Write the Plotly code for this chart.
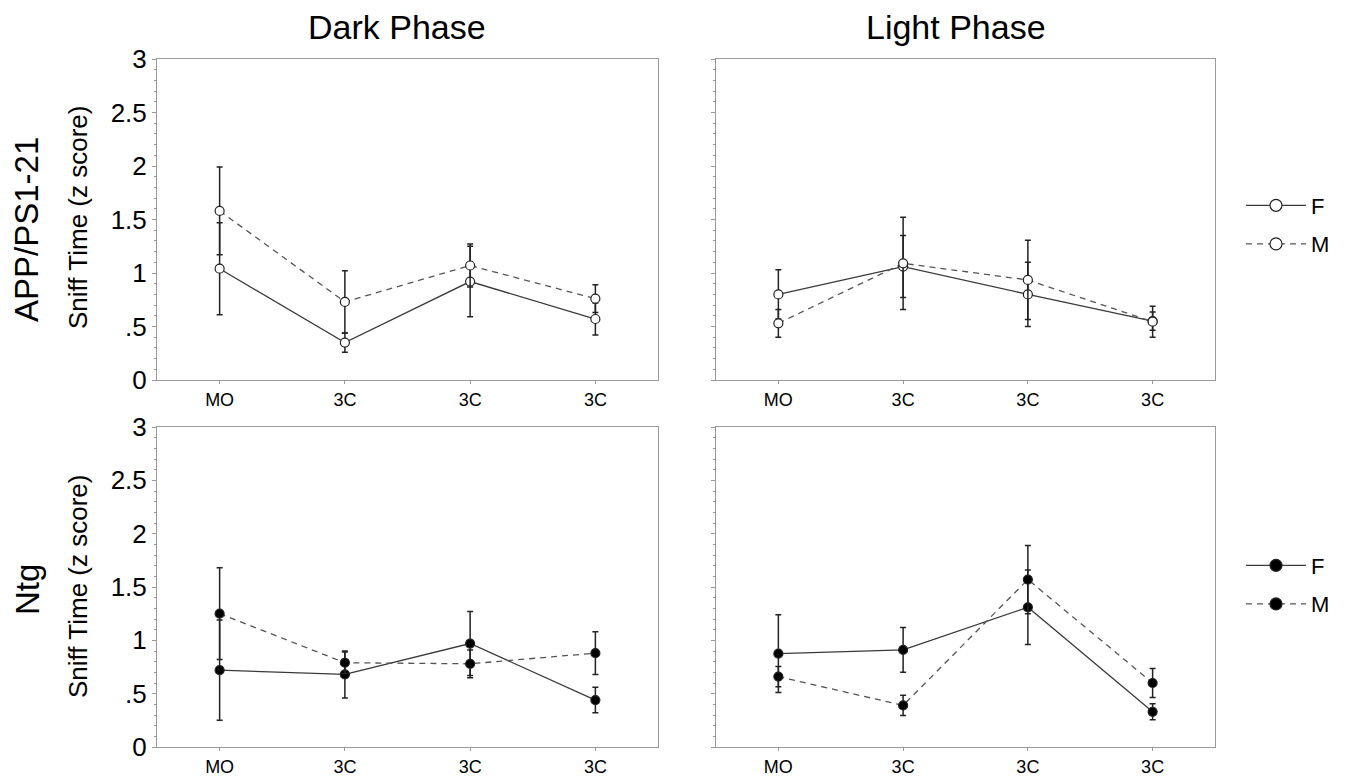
import plotly.graph_objects as go

# ---------------- data ----------------
categories = ["MO", "3C", "3C", "3C"]
xpos = [0, 1, 2, 3]

y_tickvals = [0, 0.5, 1, 1.5, 2, 2.5, 3]
y_ticktext = ["0", ".5", "1", "1.5", "2", "2.5", "3"]

# APP/PS1-21, Dark Phase
app_dark_F = [1.04, 0.35, 0.92, 0.57]
app_dark_F_err = [0.43, 0.09, 0.33, 0.15]
app_dark_M = [1.58, 0.73, 1.07, 0.76]
app_dark_M_err = [0.41, 0.29, 0.20, 0.13]

# APP/PS1-21, Light Phase
app_light_F = [0.80, 1.06, 0.80, 0.55]
app_light_F_err = [0.23, 0.29, 0.30, 0.085]
app_light_M = [0.53, 1.09, 0.935, 0.545]
app_light_M_err = [0.13, 0.43, 0.37, 0.145]

# Ntg, Dark Phase
ntg_dark_F = [0.72, 0.68, 0.97, 0.44]
ntg_dark_F_err = [0.47, 0.22, 0.30, 0.12]
ntg_dark_M = [1.25, 0.79, 0.78, 0.88]
ntg_dark_M_err = [0.43, 0.10, 0.13, 0.20]

# Ntg, Light Phase
ntg_light_F = [0.875, 0.91, 1.31, 0.33]
ntg_light_F_err = [0.365, 0.21, 0.35, 0.075]
ntg_light_M = [0.66, 0.39, 1.57, 0.60]
ntg_light_M_err = [0.095, 0.095, 0.32, 0.135]

col_titles = ["Dark Phase", "Light Phase"]
row_titles = ["APP/PS1-21", "Ntg"]
y_title = "Sniff Time (z score)"

FONT = "Liberation Sans, Arial, sans-serif"
LINE_F = "#3a3a3a"
LINE_M = "#555555"
ERR_COL = "#222222"
AX_COL = "#9a9a9a"
DASH = "6px,5px"

fig = go.Figure()

panels = [
    ("x", "y", app_dark_F, app_dark_F_err, app_dark_M, app_dark_M_err, False),
    ("x2", "y2", app_light_F, app_light_F_err, app_light_M, app_light_M_err, False),
    ("x3", "y3", ntg_dark_F, ntg_dark_F_err, ntg_dark_M, ntg_dark_M_err, True),
    ("x4", "y4", ntg_light_F, ntg_light_F_err, ntg_light_M, ntg_light_M_err, True),
]

for xa, ya, F, Fe, M, Me, filled in panels:
    fill = "black" if filled else "white"
    for name, vals, errs, dash, lc in [("F", F, Fe, "solid", LINE_F), ("M", M, Me, DASH, LINE_M)]:
        fig.add_trace(go.Scatter(
            x=xpos, y=vals, name=name, xaxis=xa, yaxis=ya,
            mode="lines+markers",
            line=dict(color=lc, width=1.3, dash=dash),
            marker=dict(symbol="circle", size=9, color=fill,
                        line=dict(color="#222222", width=1.2)),
            error_y=dict(type="data", array=errs, visible=True,
                         color=ERR_COL, thickness=1.5, width=3),
            showlegend=False,
        ))

# legend-only entries (no data points)
for leg, fill, xa, ya in [("legend", "white", "x", "y"), ("legend2", "black", "x3", "y3")]:
    for name, dash, lc in [("F", "solid", LINE_F), ("M", DASH, LINE_M)]:
        fig.add_trace(go.Scatter(
            x=[None], y=[None], name=name, xaxis=xa, yaxis=ya,
            mode="lines+markers",
            line=dict(color=lc, width=1.3, dash=dash),
            marker=dict(symbol="circle", size=12, color=fill,
                        line=dict(color="#222222", width=1.2)),
            legend=leg, showlegend=True, legendgroup=leg + name,
        ))

x_dom = [[157 / 1349, 658 / 1349], [716 / 1349, 1215 / 1349]]
y_dom = [[(780 - 380) / 780, (780 - 59) / 780], [(780 - 747) / 780, (780 - 427) / 780]]

axis_common = dict(showline=True, linecolor=AX_COL, linewidth=1, mirror=True,
                   showgrid=False, zeroline=False, ticks="outside",
                   tickcolor=AX_COL, automargin=False)

idx = 0
for r in range(2):
    for c in range(2):
        idx += 1
        sfx = "" if idx == 1 else str(idx)
        fig.update_layout(**{
            "xaxis" + sfx: dict(
                axis_common, domain=x_dom[c], anchor="y" + sfx,
                range=[-0.5, 3.5], tickvals=xpos, ticktext=categories,
                ticklen=3, tickfont=dict(family=FONT, size=18, color="black"),
            ),
            "yaxis" + sfx: dict(
                axis_common, domain=y_dom[r], anchor="x" + sfx,
                range=[0, 3], tickvals=y_tickvals, ticktext=y_ticktext,
                ticklen=4, showticklabels=(c == 0),
                tickfont=dict(family=FONT, size=26, color="black"),
                minor=dict(dtick=0.1, ticks="outside", ticklen=2, tickcolor=AX_COL),
            ),
        })

annotations = []
for c in range(2):
    annotations.append(dict(
        text=col_titles[c], xref="paper", yref="paper",
        x=(x_dom[c][0] + x_dom[c][1]) / 2 - 10 / 1349, y=(780 - 27) / 780,
        showarrow=False, font=dict(family=FONT, size=34, color="black"),
        xanchor="center", yanchor="middle"))
row_centers = [230, 589]
for r in range(2):
    annotations.append(dict(
        text=row_titles[r], xref="paper", yref="paper",
        x=27 / 1349, y=(780 - row_centers[r]) / 780, textangle=-90,
        showarrow=False, font=dict(family=FONT, size=33, color="black"),
        xanchor="center", yanchor="middle"))
    annotations.append(dict(
        text=y_title, xref="paper", yref="paper",
        x=78 / 1349, y=(780 - [218, 587][r]) / 780, textangle=-90,
        showarrow=False, font=dict(family=FONT, size=26, color="black"),
        xanchor="center", yanchor="middle"))

legend_common = dict(font=dict(family=FONT, size=22, color="black"),
                     bgcolor="rgba(0,0,0,0)",
                     itemwidth=60, tracegroupgap=7,
                     xanchor="left", yanchor="middle")

fig.update_layout(
    width=1349, height=780,
    margin=dict(l=0, r=0, t=0, b=0, autoexpand=False),
    paper_bgcolor="white", plot_bgcolor="white",
    annotations=annotations,
    legend=dict(legend_common, x=1241 / 1349, y=(780 - 225) / 780),
    legend2=dict(legend_common, x=1241 / 1349, y=(780 - 585) / 780),
)

fig.write_html("out.html")
